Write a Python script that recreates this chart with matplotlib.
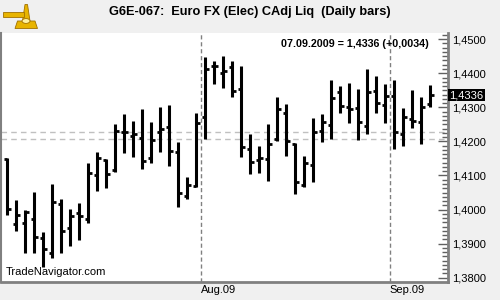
import matplotlib
matplotlib.use("Agg")
import matplotlib.pyplot as plt
from matplotlib.ticker import MultipleLocator, FuncFormatter
from matplotlib.patches import Polygon, Circle
import pandas as pd

# daily bars, July 1 - Sep 7 2009 (Jul 3 holiday left out)
dates = pd.bdate_range("2009-07-01", "2009-09-07").drop(pd.Timestamp("2009-07-03"))

opens = [1.4148, 1.3957, 1.3960, 1.3972, 1.3916, 1.3872, 1.4017, 1.3945, 1.3989, 1.3972,
         1.4101, 1.4145, 1.4116, 1.4229, 1.4216, 1.4209, 1.4150, 1.4227, 1.4241, 1.4168,
         1.4040, 1.4069, 1.4271, 1.4422, 1.4402, 1.4419, 1.4353, 1.4177, 1.4145, 1.4148,
         1.4206, 1.4284, 1.4192, 1.4072, 1.4131, 1.4231, 1.4248, 1.4344, 1.4300, 1.4297,
         1.4245, 1.4348, 1.4307, 1.4333, 1.4222, 1.4266, 1.4258, 1.4310]
highs = [1.4150, 1.4028, 1.3999, 1.4052, 1.3935, 1.4075, 1.4030, 1.4002, 1.4018, 1.4138,
         1.4168, 1.4148, 1.4250, 1.4280, 1.4260, 1.4295, 1.4256, 1.4300, 1.4307, 1.4197,
         1.4096, 1.4284, 1.4449, 1.4436, 1.4451, 1.4436, 1.4421, 1.4221, 1.4187, 1.4250,
         1.4329, 1.4310, 1.4194, 1.4157, 1.4268, 1.4280, 1.4380, 1.4363, 1.4371, 1.4353,
         1.4413, 1.4392, 1.4369, 1.4380, 1.4297, 1.4351, 1.4329, 1.4366]
lows = [1.3984, 1.3938, 1.3873, 1.3873, 1.3831, 1.3857, 1.3872, 1.3893, 1.3911, 1.3961,
        1.4055, 1.4062, 1.4109, 1.4165, 1.4155, 1.4118, 1.4136, 1.4170, 1.4129, 1.4007,
        1.4030, 1.4065, 1.4206, 1.4368, 1.4356, 1.4329, 1.4153, 1.4103, 1.4108, 1.4085,
        1.4201, 1.4158, 1.4045, 1.4067, 1.4082, 1.4199, 1.4207, 1.4283, 1.4253, 1.4204,
        1.4221, 1.4283, 1.4255, 1.4177, 1.4187, 1.4238, 1.4192, 1.4302]
closes = [1.4002, 1.3983, 1.3994, 1.3919, 1.3883, 1.4023, 1.3938, 1.3981, 1.3981, 1.4108,
          1.4150, 1.4103, 1.4231, 1.4229, 1.4222, 1.4143, 1.4204, 1.4236, 1.4172, 1.4048,
          1.4071, 1.4253, 1.4412, 1.4422, 1.4407, 1.4348, 1.4183, 1.4140, 1.4150, 1.4192,
          1.4294, 1.4201, 1.4080, 1.4136, 1.4227, 1.4256, 1.4327, 1.4305, 1.4294, 1.4256,
          1.4344, 1.4312, 1.4333, 1.4229, 1.4273, 1.4260, 1.4302, 1.4336]

ref_levels = [1.4229, 1.4206]
title = "G6E-067:  Euro FX (Elec) CAdj Liq  (Daily bars)"

plt.rcParams['font.family'] = ['Liberation Sans', 'DejaVu Sans']

bg = "#f0f0f0"
fig = plt.figure(figsize=(5, 3), dpi=100, facecolor=bg)
ax = fig.add_axes([0.002, 0.061, 0.894, 0.829])
ax.set_facecolor("white")

# OHLC bars
for i in range(len(dates)):
    ax.vlines(i, lows[i], highs[i], color="black", lw=2.2, zorder=3)
    ax.hlines(opens[i], i - 0.38, i, color="black", lw=2.0, zorder=3)
    ax.hlines(closes[i], i, i + 0.38, color="black", lw=2.0, zorder=3)

# month separators
months = dates.to_period("M")
for i in range(1, len(dates)):
    if months[i] != months[i - 1]:
        ax.axvline(i - 0.5, color="#808080", lw=1, ls=(0, (3, 2)), zorder=1)
        fig.text(0.002 + 0.894 * (i - 0.5 + 0.7) / 49.67, 0.033,
                 dates[i].strftime("%b.%y"), fontsize=8, va="center", ha="left")

for lv in ref_levels:
    ax.axhline(lv, color="#c0c0c0", lw=1, ls=(0, (4, 3)), zorder=1)

ax.set_xlim(-0.7, 48.97)
ax.set_ylim(1.37883, 1.45182)

ax.yaxis.tick_right()
ax.yaxis.set_major_locator(MultipleLocator(0.01))
ax.yaxis.set_minor_locator(MultipleLocator(0.00125))
ax.yaxis.set_major_formatter(FuncFormatter(lambda v, p: ("%.4f" % v).replace(".", ",")))
ax.tick_params(axis="y", which="major", direction="in", length=7, width=1, color="#606060",
               labelsize=8, pad=3)
ax.tick_params(axis="y", which="minor", direction="in", length=4, width=1, color="#606060")
ax.set_xticks([])

for s in ["left", "right", "bottom"]:
    ax.spines[s].set_color("#808080")
ax.spines["right"].set_linewidth(2)
ax.spines["bottom"].set_linewidth(2)
ax.spines["left"].set_linewidth(1.5)
ax.spines["top"].set_visible(False)

# last value label on axis
last = closes[-1]
ax.text(1.003, last, ("%.4f" % last).replace(".", ","), transform=ax.get_yaxis_transform(),
        color="white", fontsize=8, va="center", ha="left", zorder=5,
        bbox=dict(boxstyle="square,pad=0.12", fc="black", ec="none"), clip_on=False)

chg = closes[-1] - closes[-2]
info = "%s = %s (%s)" % (dates[-1].strftime("%d.%m.%Y"),
                         ("%.4f" % last).replace(".", ","),
                         ("%+.4f" % chg).replace(".", ","))
ax.text(0.957, 0.975, info, transform=ax.transAxes, fontsize=7.7, fontweight="bold",
        ha="right", va="top")
ax.text(0.01, 0.018, "TradeNavigator.com", transform=ax.transAxes, fontsize=8,
        ha="left", va="bottom")

fig.text(0.5, 0.96, title, fontsize=9.2, fontweight="bold", ha="center", va="center")

# rough logo in the corner
gold, dark = "#e8b400", "#a07000"
fig.patches.append(Polygon([[0.03, 0.905], [0.075, 0.905], [0.07, 0.93], [0.035, 0.93]],
                           closed=True, fc=gold, ec=dark, lw=0.6, transform=fig.transFigure))
fig.patches.append(Polygon([[0.045, 0.93], [0.06, 0.93], [0.055, 0.985], [0.05, 0.985]],
                           closed=True, fc=gold, ec=dark, lw=0.6, transform=fig.transFigure))
fig.patches.append(Polygon([[0.006, 0.945], [0.048, 0.945], [0.048, 0.96], [0.006, 0.96]],
                           closed=True, fc=gold, ec=dark, lw=0.6, transform=fig.transFigure))
fig.patches.append(Circle((0.052, 0.93), 0.008, fc="#fff2a0", ec=dark, lw=0.6,
                          transform=fig.transFigure))

fig.savefig("out.png", dpi=100, facecolor=bg)
